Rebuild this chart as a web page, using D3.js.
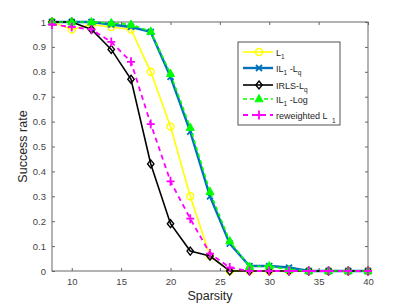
<!DOCTYPE html>
<html>
<head>
<meta charset="utf-8">
<script src="https://cdn.jsdelivr.net/npm/d3@7"></script>
<style>
  body { margin: 0; background: #fff; }
  svg { font-family: "Liberation Sans", Arial, sans-serif; }
</style>
</head>
<body>
<div id="chart"></div>
<script>
// Data
const sparsity = [8, 10, 12, 14, 16, 18, 20, 22, 24, 26, 28, 30, 32, 34, 36, 38, 40];
const l1 =      [1.00, 0.97, 0.99, 0.98, 0.97, 0.80, 0.58, 0.30, 0.06, 0.00, 0, 0, 0, 0, 0, 0, 0];
const il1Lq =   [1.00, 1.00, 1.00, 0.99, 0.98, 0.96, 0.78, 0.56, 0.30, 0.11, 0.02, 0.02, 0.014, 0, 0, 0, 0];
const irlsLq =  [1.00, 1.00, 0.97, 0.89, 0.77, 0.43, 0.19, 0.08, 0.06, 0.00, 0, 0, 0, 0, 0, 0, 0];
const il1Log =  [1.00, 1.00, 1.00, 0.996, 0.99, 0.962, 0.792, 0.576, 0.318, 0.12, 0.018, 0.02, 0.005, 0, 0, 0, 0];
const rwL1 =    [0.99, 0.98, 0.97, 0.92, 0.84, 0.59, 0.36, 0.21, 0.07, 0.014, 0, 0, 0, 0, 0, 0, 0];
const xTicks = [10, 15, 20, 25, 30, 35, 40];
const yTicks = [0, 0.1, 0.2, 0.3, 0.4, 0.5, 0.6, 0.7, 0.8, 0.9, 1];

const series = [
  { name: "L1", values: l1, color: "#ffff00", marker: "circle", dash: null, width: 1.6 },
  { name: "IL1-Lq", values: il1Lq, color: "#0072bd", marker: "x", dash: null, width: 2.4 },
  { name: "IRLS-Lq", values: irlsLq, color: "#000000", marker: "diamond", dash: null, width: 1.6 },
  { name: "IL1-Log", values: il1Log, color: "#00ff00", marker: "triangle", dash: "4,3", width: 1.6 },
  { name: "rw", values: rwL1, color: "#ff00ff", marker: "plus", dash: "5,4", width: 1.8 }
];

const W = 407, H = 305;
const margin = { top: 22, right: 39, bottom: 34, left: 52 };
const width = W - margin.left - margin.right;
const height = H - margin.top - margin.bottom;

const svg = d3.select("#chart").append("svg")
  .attr("width", W).attr("height", H);
const g = svg.append("g")
  .attr("transform", "translate(" + margin.left + "," + margin.top + ")");

const x = d3.scaleLinear().domain([8, 40]).range([0, width]);
const y = d3.scaleLinear().domain([0, 1]).range([height, 0]);

const axisColor = "#666";
const tickColor = "#444";

// box + ticks on all four sides, pointing inward
g.append("rect").attr("width", width).attr("height", height)
  .attr("fill", "none").attr("stroke", axisColor).attr("stroke-width", 1);

function styleAxis(sel) {
  sel.select(".domain").remove();
  sel.selectAll(".tick line").attr("stroke", axisColor);
  sel.selectAll(".tick text").attr("fill", tickColor).style("font-size", "9.5px");
}

g.append("g").attr("transform", "translate(0," + height + ")")
  .call(d3.axisBottom(x).tickValues(xTicks).tickSizeInner(-3).tickSizeOuter(0).tickPadding(7))
  .call(styleAxis);
g.append("g")
  .call(d3.axisTop(x).tickValues(xTicks).tickSizeInner(-3).tickSizeOuter(0).tickFormat(""))
  .call(styleAxis);
g.append("g")
  .call(d3.axisLeft(y).tickValues(yTicks).tickSizeInner(-3).tickSizeOuter(0).tickPadding(6).tickFormat(d3.format("~g")))
  .call(styleAxis);
g.append("g").attr("transform", "translate(" + width + ",0)")
  .call(d3.axisRight(y).tickValues(yTicks).tickSizeInner(-3).tickSizeOuter(0).tickFormat(""))
  .call(styleAxis);

// axis labels
svg.append("text")
  .attr("x", margin.left + width / 2).attr("y", 300)
  .attr("text-anchor", "middle").attr("fill", "#262626")
  .style("font-size", "12.5px").text("Sparsity");
svg.append("text")
  .attr("transform", "translate(27," + (margin.top + height / 2) + ") rotate(-90)")
  .attr("text-anchor", "middle").attr("fill", "#262626")
  .style("font-size", "12.5px").text("Success rate");

// marker drawing
function drawMarker(sel, type, color) {
  if (type === "circle") {
    sel.append("circle").attr("r", 3.5).attr("fill", "none")
      .attr("stroke", color).attr("stroke-width", 1.4);
  } else if (type === "x") {
    sel.append("path").attr("d", "M-3,-3L3,3M-3,3L3,-3")
      .attr("stroke", color).attr("stroke-width", 1.8);
  } else if (type === "diamond") {
    sel.append("path").attr("d", "M0,-4L3.2,0L0,4L-3.2,0Z").attr("fill", "none")
      .attr("stroke", color).attr("stroke-width", 1.4);
  } else if (type === "triangle") {
    sel.append("path").attr("d", "M0,-4.5L4,2.8L-4,2.8Z").attr("fill", color)
      .attr("stroke", color).attr("stroke-width", 1);
  } else if (type === "plus") {
    sel.append("path").attr("d", "M-4,0L4,0M0,-4.5L0,4.5")
      .attr("stroke", color).attr("stroke-width", 1.8);
  }
}

const line = d3.line().x((d, i) => x(sparsity[i])).y(d => y(d));

series.forEach(s => {
  g.append("path").datum(s.values)
    .attr("fill", "none").attr("stroke", s.color)
    .attr("stroke-width", s.width)
    .attr("stroke-dasharray", s.dash)
    .attr("d", line);
  g.selectAll(null).data(s.values).enter().append("g")
    .attr("transform", (d, i) => "translate(" + x(sparsity[i]) + "," + y(d) + ")")
    .each(function() { drawMarker(d3.select(this), s.marker, s.color); });
});

// legend
const lg = svg.append("g").attr("transform", "translate(238,42)");
lg.append("rect").attr("width", 102).attr("height", 83)
  .attr("fill", "#fff").attr("stroke", "#262626").attr("stroke-width", 0.8);
const rowY = [10, 26, 43, 57, 73];
const labels = [
  [["L", 0], ["1", 1]],
  [["IL", 0], ["1", 1], [" -L", 0], ["q", 1]],
  [["IRLS-L", 0], ["q", 1]],
  [["IL", 0], ["1", 1], [" -Log", 0]],
  [["reweighted L", 0]]
];
series.forEach((s, i) => {
  const row = lg.append("g").attr("transform", "translate(0," + rowY[i] + ")");
  row.append("line").attr("x1", 5).attr("x2", 35)
    .attr("stroke", s.color).attr("stroke-width", s.width)
    .attr("stroke-dasharray", s.dash);
  drawMarker(row.append("g").attr("transform", "translate(21,0)"), s.marker, s.color);
  const t = row.append("text").attr("x", 38).attr("y", 3.5)
    .attr("fill", "#262626").style("font-size", "9px");
  labels[i].forEach(p => {
    const ts = t.append("tspan").text(p[0]);
    if (p[1]) ts.style("font-size", "6.5px").attr("dy", 3);
    else if (t.selectAll("tspan").size() > 1) ts.attr("dy", -3);
  });
});
// detached subscript of "reweighted L 1"
lg.append("text").attr("x", 94).attr("y", 81)
  .attr("fill", "#262626").style("font-size", "6.5px").text("1");
</script>
</body>
</html>
